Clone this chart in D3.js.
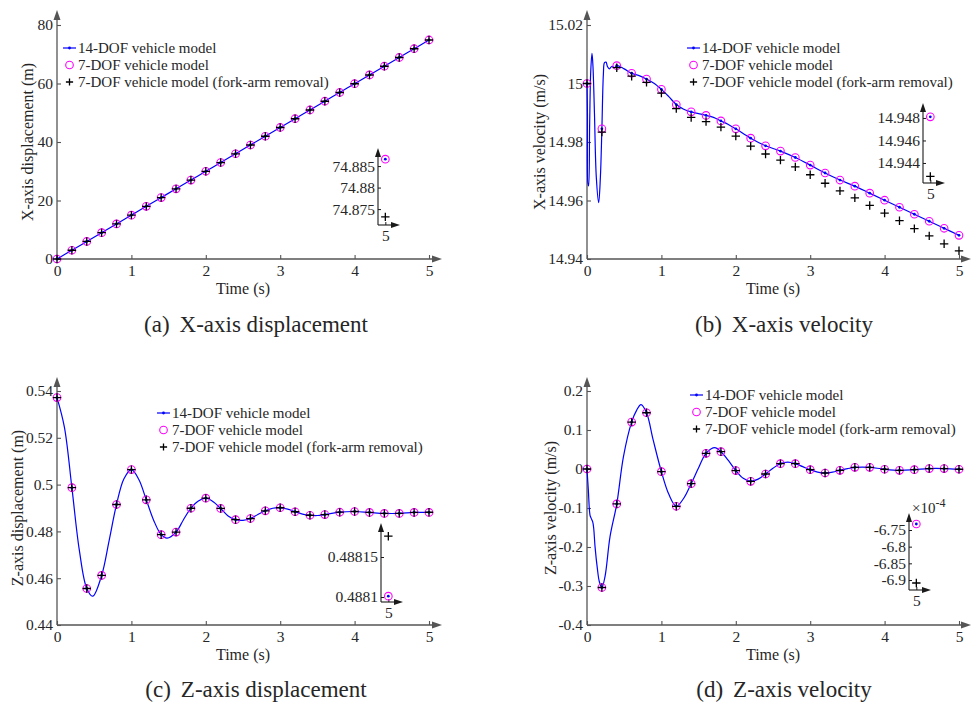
<!DOCTYPE html>
<html>
<head>
<meta charset="utf-8">
<title>Vehicle model comparison</title>
<style>
body { margin:0; background:#fff; }
svg text { font-family: "Liberation Serif", "Times New Roman", serif; fill:#262626; }
</style>
</head>
<body>
<svg id="chart" width="973" height="703"></svg>
<script src="https://d3js.org/d3.v7.min.js"></script>
<script>
// sample times of the markers (s)
var timeSteps = [0,0.2,0.4,0.6,0.8,1.0,1.2,1.4,1.6,1.8,2.0,2.2,2.4,2.6,2.8,3.0,3.2,3.4,3.6,3.8,4.0,4.2,4.4,4.6,4.8,5.0];
var xTicks = [0,1,2,3,4,5];
var xTickLabels = ["0","1","2","3","4","5"];
var legendNames = ["14-DOF vehicle model", "7-DOF vehicle model", "7-DOF vehicle model (fork-arm removal)"];

// (a) X-axis displacement
var dispX14 = [0,2.998,5.998,8.999,12.000,14.999,17.998,20.996,23.994,26.991,29.988,32.985,35.981,38.976,41.971,44.966,47.960,50.953,53.946,56.939,59.931,62.923,65.914,68.905,71.895,74.8866];
var dispX7 = [0,2.998,5.998,8.999,12.000,14.999,17.998,20.996,23.994,26.991,29.988,32.985,35.981,38.976,41.971,44.966,47.960,50.953,53.946,56.939,59.931,62.923,65.914,68.905,71.895,74.8866];
var dispXFork = [0,2.998,5.997,8.998,11.998,14.997,17.995,20.993,23.990,26.987,29.983,32.979,35.974,38.969,41.963,44.957,47.950,50.942,53.934,56.926,59.917,62.908,65.898,68.887,71.876,74.8732];
var dispXTicks = [0,20,40,60,80];
var dispXTickLabels = ["0","20","40","60","80"];
var dispXInsetTicks = [74.875,74.88,74.885];
var dispXInsetLabels = ["74.875","74.88","74.885"];

// (b) X-axis velocity
var velX14Time = [0,0.006,0.012,0.022,0.035,0.05,0.067,0.08,0.1,0.125,0.157,0.18,0.2,0.22,0.235,0.256,0.275,0.3,0.336,0.37,0.4,0.5,0.6,0.7,0.8,0.9,1.0,1.1,1.2,1.3,1.4,1.5,1.6,1.7,1.8,1.9,2.0,2.2,2.4,2.6,2.8,3.0,3.2,3.4,3.6,3.8,4.0,4.2,4.4,4.6,4.8,5.0];
var velX14 = [15.000,14.990,14.966,14.965,14.985,15.004,15.0103,15.006,14.990,14.968,14.9593,14.968,14.9845,15.003,15.0071,15.0073,15.0058,15.0050,15.0059,15.0054,15.0061,15.0050,15.0035,15.0027,15.0015,15.0001,14.9980,14.9955,14.9928,14.9912,14.9903,14.9897,14.9891,14.9884,14.9872,14.9860,14.9845,14.9813,14.9787,14.9769,14.9747,14.9721,14.9694,14.9670,14.9649,14.9625,14.9601,14.9577,14.9553,14.9529,14.9505,14.9481];
var velX7 = [15.000,14.9845,15.0061,15.0035,15.0015,14.9980,14.9928,14.9903,14.9891,14.9872,14.9845,14.9813,14.9787,14.9769,14.9747,14.9721,14.9694,14.9670,14.9649,14.9625,14.9601,14.9577,14.9553,14.9529,14.9505,14.9481];
var velXFork = [15.000,14.9834,15.0054,15.0025,15.0004,14.9967,14.9914,14.9884,14.9870,14.9851,14.9820,14.9786,14.9759,14.9738,14.9715,14.9688,14.9659,14.9633,14.9609,14.9583,14.9557,14.9531,14.9504,14.9479,14.9452,14.9428];
var velXTicks = [14.94,14.96,14.98,15,15.02];
var velXTickLabels = ["14.94","14.96","14.98","15","15.02"];
var velXInsetTicks = [14.944,14.946,14.948];
var velXInsetLabels = ["14.944","14.946","14.948"];

// (c) Z-axis displacement
var dispZ14Time = [0,0.1,0.2,0.3,0.4,0.48,0.6,0.7,0.8,0.9,1.0,1.1,1.2,1.3,1.4,1.48,1.6,1.7,1.8,1.9,2.0,2.1,2.2,2.3,2.4,2.5,2.6,2.7,2.8,2.9,3.0,3.1,3.2,3.3,3.4,3.5,3.6,3.8,4.0,4.2,4.4,4.6,4.8,5.0];
var dispZ14 = [0.5372,0.5245,0.4987,0.4720,0.4556,0.4523,0.4612,0.4760,0.4915,0.5025,0.5064,0.5022,0.4935,0.4847,0.4786,0.4771,0.4797,0.4850,0.4899,0.4930,0.4942,0.4927,0.4898,0.4866,0.4850,0.4847,0.4855,0.4872,0.4888,0.4899,0.4901,0.4895,0.4884,0.4874,0.4869,0.4868,0.4872,0.4882,0.4885,0.4881,0.4877,0.4877,0.4881,0.488101];
var dispZ7 = [0.5372,0.4987,0.4556,0.4612,0.4915,0.5064,0.4935,0.4786,0.4797,0.4899,0.4942,0.4898,0.4850,0.4855,0.4888,0.4901,0.4884,0.4869,0.4872,0.4882,0.4885,0.4881,0.4877,0.4877,0.4881,0.488101];
var dispZFork = [0.5372,0.4987,0.4556,0.4612,0.4915,0.5064,0.4935,0.4786,0.4797,0.4899,0.4942,0.4898,0.4850,0.4855,0.4888,0.4901,0.4884,0.4869,0.4872,0.4882,0.4885,0.4881,0.4877,0.4877,0.4881,0.488176];
var dispZTicks = [0.44,0.46,0.48,0.5,0.52,0.54];
var dispZTickLabels = ["0.44","0.46","0.48","0.5","0.52","0.54"];
var dispZInsetTicks = [0.4881,0.48815];
var dispZInsetLabels = ["0.4881","0.48815"];

// (d) Z-axis velocity
var velZ14Time = [0,0.018,0.04,0.055,0.076,0.09,0.108,0.139,0.166,0.2,0.242,0.31,0.4,0.49,0.6,0.668,0.726,0.8,0.89,1.0,1.1,1.2,1.3,1.4,1.5,1.6,1.72,1.8,1.9,2.0,2.1,2.2,2.3,2.4,2.5,2.6,2.7,2.8,2.9,3.0,3.1,3.2,3.3,3.4,3.5,3.6,3.7,3.8,4.0,4.2,4.4,4.6,4.8,5.0];
var velZ14 = [0,-0.054,-0.118,-0.126,-0.135,-0.152,-0.199,-0.255,-0.289,-0.3038,-0.276,-0.173,-0.0896,0.032,0.1203,0.151,0.165,0.1442,0.074,-0.0068,-0.065,-0.0956,-0.075,-0.0375,0.003,0.0401,0.0547,0.0444,0.022,-0.0040,-0.024,-0.0316,-0.026,-0.0128,0.002,0.0137,0.0175,0.0137,0.006,-0.0017,-0.008,-0.0102,-0.008,-0.0034,0.001,0.0043,0.005,0.0043,-0.0006,-0.0034,-0.0017,0.0011,0.0011,-0.0006732];
var velZ7 = [0,-0.3038,-0.0896,0.1203,0.1442,-0.0068,-0.0956,-0.0375,0.0401,0.0444,-0.0040,-0.0316,-0.0128,0.0137,0.0137,-0.0017,-0.0102,-0.0034,0.0043,0.0043,-0.0006,-0.0034,-0.0017,0.0011,0.0011,-0.0006732];
var velZFork = [0,-0.3038,-0.0896,0.1203,0.1442,-0.0068,-0.0956,-0.0375,0.0401,0.0444,-0.0040,-0.0316,-0.0128,0.0137,0.0137,-0.0017,-0.0102,-0.0034,0.0043,0.0043,-0.0006,-0.0034,-0.0017,0.0011,0.0011,-0.0006909];
var velZTicks = [-0.4,-0.3,-0.2,-0.1,0,0.1,0.2];
var velZTickLabels = ["-0.4","-0.3","-0.2","-0.1","0","0.1","0.2"];
var velZInsetTicks = [-6.9,-6.85,-6.8,-6.75];
var velZInsetLabels = ["-6.9","-6.85","-6.8","-6.75"];

var svg = d3.select("#chart");
var axisColor = "#555";

function arrow(g, x, y, dir, len, half, color) {
  var p;
  if (dir == "up") p = [[x, y], [x - half, y + len], [x + half, y + len]];
  else p = [[x, y], [x - len, y - half], [x - len, y + half]];
  g.append("path").attr("d", "M" + p.join("L") + "Z").attr("fill", color);
}

function drawPlus(g, cx, cy, s, w) {
  g.append("path")
    .attr("d", "M" + (cx - s) + "," + cy + "H" + (cx + s) + "M" + cx + "," + (cy - s) + "V" + (cy + s))
    .attr("stroke", "#000").attr("stroke-width", w).attr("fill", "none");
}

function drawPanel(p) {
  var g = svg.append("g");
  var x = d3.scaleLinear().domain([0, 5]).range([p.left, p.right]);
  var y = d3.scaleLinear().domain(p.yDomain).range([p.bottom, p.top]);

  // axes with arrows
  g.append("line").attr("x1", p.left).attr("x2", p.left).attr("y1", p.bottom).attr("y2", p.yTip + 8)
    .attr("stroke", axisColor).attr("stroke-width", 1.3);
  arrow(g, p.left, p.yTip, "up", 10, 3.5, axisColor);
  g.append("line").attr("x1", p.left).attr("x2", p.xTip - 8).attr("y1", p.bottom).attr("y2", p.bottom)
    .attr("stroke", axisColor).attr("stroke-width", 1.3);
  arrow(g, p.xTip, p.bottom, "right", 10, 3.5, axisColor);

  var ya = g.append("g").attr("transform", "translate(" + p.left + ",0)")
    .call(d3.axisLeft(y).tickValues(p.yTicks).tickFormat(function(d, i) { return p.yTickLabels[i]; })
      .tickSize(-4).tickPadding(4));
  var xa = g.append("g").attr("transform", "translate(0," + p.bottom + ")")
    .call(d3.axisBottom(x).tickValues(xTicks).tickFormat(function(d, i) { return xTickLabels[i]; })
      .tickSize(-4).tickPadding(6));
  [ya, xa].forEach(function(a) {
    a.select(".domain").remove();
    a.selectAll("line").attr("stroke", axisColor).attr("stroke-width", 1.1);
    a.selectAll("text").attr("font-size", 15.5).attr("font-family", null).attr("fill", "#262626");
  });

  // 14-DOF line
  var pts = p.lineT.map(function(t, i) { return [t, p.lineV[i]]; });
  g.append("path").datum(pts)
    .attr("d", d3.line().x(function(d) { return x(d[0]); }).y(function(d) { return y(d[1]); }).curve(d3.curveCatmullRom.alpha(0.5)))
    .attr("fill", "none").attr("stroke", "#0000ff").attr("stroke-width", 1.2);
  var dots = pts.filter(function(d) { return Math.abs(d[0] * 5 - Math.round(d[0] * 5)) < 1e-9; });
  g.selectAll(".dot").data(dots).enter().append("circle")
    .attr("cx", function(d) { return x(d[0]); }).attr("cy", function(d) { return y(d[1]); })
    .attr("r", 1.4).attr("fill", "#0000ff");

  // 7-DOF circles
  g.selectAll(".c7").data(timeSteps).enter().append("circle")
    .attr("cx", function(d) { return x(d); }).attr("cy", function(d, i) { return y(p.c7[i]); })
    .attr("r", 3.8).attr("fill", "none").attr("stroke", "#ff00ff").attr("stroke-width", 1.1);
  // fork-arm removal pluses
  timeSteps.forEach(function(t, i) { drawPlus(g, x(t), y(p.fork[i]), 4.2, 1.3); });

  // legend
  var lx = p.legend[0], ly = p.legend[1];
  g.append("line").attr("x1", lx).attr("x2", lx + 13).attr("y1", ly).attr("y2", ly)
    .attr("stroke", "#0000ff").attr("stroke-width", 1.2);
  g.append("circle").attr("cx", lx + 6.5).attr("cy", ly).attr("r", 1.4).attr("fill", "#0000ff");
  g.append("circle").attr("cx", lx + 6.5).attr("cy", ly + 17).attr("r", 3.8)
    .attr("fill", "none").attr("stroke", "#ff00ff").attr("stroke-width", 1.1);
  drawPlus(g, lx + 6.5, ly + 34, 3.6, 1.3);
  legendNames.forEach(function(name, i) {
    g.append("text").attr("x", lx + 15).attr("y", ly + i * 17 + 5).attr("font-size", 15).text(name);
  });

  // axis labels and caption
  g.append("text").attr("x", (p.left + p.right) / 2).attr("y", p.bottom + 35)
    .attr("text-anchor", "middle").attr("font-size", 16).text("Time (s)");
  g.append("text").attr("transform", "translate(" + p.ylab[0] + "," + p.ylab[1] + ") rotate(-90)")
    .attr("text-anchor", "middle").attr("font-size", 16).text(p.ylabel);
  var cap = g.append("text").attr("x", p.caption[0]).attr("y", p.caption[1])
    .attr("text-anchor", "middle").attr("font-size", 23).attr("fill", "#111");
  cap.append("tspan").text(p.capTag);
  cap.append("tspan").attr("dx", 10).text(p.capText);

  // zoomed inset at t = 5
  var ins = p.inset;
  var ix = d3.scaleLinear().domain([4.99, 5.02]).range([ins.ax, ins.ax + 22]);
  var iy = d3.scaleLinear().domain(ins.domain).range([ins.bottom, ins.top]);
  var n = timeSteps.length - 1;
  var ic = "#1a1a1a";
  g.append("line").attr("x1", ins.ax).attr("x2", ins.ax).attr("y1", ins.bottom).attr("y2", ins.top + 7)
    .attr("stroke", ic).attr("stroke-width", 1.1);
  arrow(g, ins.ax, ins.top, "up", 9, 3, ic);
  g.append("line").attr("x1", ins.ax).attr("x2", ins.ax + 15).attr("y1", ins.bottom).attr("y2", ins.bottom)
    .attr("stroke", ic).attr("stroke-width", 1.1);
  arrow(g, ins.ax + 22, ins.bottom, "right", 9, 3, ic);
  var iya = g.append("g").attr("transform", "translate(" + ins.ax + ",0)")
    .call(d3.axisLeft(iy).tickValues(ins.ticks).tickFormat(function(d, i) { return ins.labels[i]; })
      .tickSize(-3).tickPadding(3));
  var ixa = g.append("g").attr("transform", "translate(0," + ins.bottom + ")")
    .call(d3.axisBottom(ix).tickValues([5]).tickFormat(function() { return "5"; }).tickSize(-3).tickPadding(5));
  [iya, ixa].forEach(function(a) {
    a.select(".domain").remove();
    a.selectAll("line").attr("stroke", ic);
    a.selectAll("text").attr("font-size", 15.5).attr("font-family", null).attr("fill", "#262626");
  });
  var k = ins.scale;
  g.append("circle").attr("cx", ix(5)).attr("cy", iy(p.c7[n] * k)).attr("r", 3.8)
    .attr("fill", "none").attr("stroke", "#ff00ff").attr("stroke-width", 1.1);
  g.append("circle").attr("cx", ix(5)).attr("cy", iy(p.lineV[p.lineV.length - 1] * k)).attr("r", 1.4).attr("fill", "#0000ff");
  drawPlus(g, ix(5), iy(p.fork[n] * k), 4.2, 1.3);
  if (ins.exponent) {
    var ex = g.append("text").attr("x", ins.ax + 3).attr("y", ins.top).attr("font-size", 15);
    ex.append("tspan").text("\u00d710");
    ex.append("tspan").attr("dy", -6).attr("font-size", 12).text("-4");
  }
}

drawPanel({
  left: 57, right: 429, bottom: 259, top: 25, yTip: 10, xTip: 442,
  yDomain: [0, 80], yTicks: dispXTicks, yTickLabels: dispXTickLabels,
  lineT: timeSteps, lineV: dispX14, c7: dispX7, fork: dispXFork,
  legend: [63, 48], ylab: [33, 142], ylabel: "X-axis displacement (m)",
  caption: [256, 332], capTag: "(a)", capText: "X-axis displacement",
  inset: { ax: 378, bottom: 225, top: 148, domain: [74.8713, 74.8892], ticks: dispXInsetTicks, labels: dispXInsetLabels, scale: 1 }
});
drawPanel({
  left: 587, right: 959, bottom: 259, top: 25, yTip: 10, xTip: 971,
  yDomain: [14.94, 15.02], yTicks: velXTicks, yTickLabels: velXTickLabels,
  lineT: velX14Time, lineV: velX14, c7: velX7, fork: velXFork,
  legend: [687, 48], ylab: [545, 142], ylabel: "X-axis velocity (m/s)",
  caption: [784, 332], capTag: "(b)", capText: "X-axis velocity",
  inset: { ax: 923, bottom: 183, top: 103, domain: [14.94222, 14.94933], ticks: velXInsetTicks, labels: velXInsetLabels, scale: 1 }
});
drawPanel({
  left: 57, right: 429, bottom: 625, top: 391, yTip: 377, xTip: 442,
  yDomain: [0.44, 0.54], yTicks: dispZTicks, yTickLabels: dispZTickLabels,
  lineT: dispZ14Time, lineV: dispZ14, c7: dispZ7, fork: dispZFork,
  legend: [157, 413], ylab: [23, 508], ylabel: "Z-axis displacement (m)",
  caption: [256, 697], capTag: "(c)", capText: "Z-axis displacement",
  inset: { ax: 381, bottom: 602, top: 523, domain: [0.48809375, 0.4881925], ticks: dispZInsetTicks, labels: dispZInsetLabels, scale: 1 }
});
drawPanel({
  left: 587, right: 959, bottom: 625, top: 391, yTip: 377, xTip: 971,
  yDomain: [-0.4, 0.2], yTicks: velZTicks, yTickLabels: velZTickLabels,
  lineT: velZ14Time, lineV: velZ14, c7: velZ7, fork: velZFork,
  legend: [690, 395], ylab: [556, 508], ylabel: "Z-axis velocity (m/s)",
  caption: [784, 697], capTag: "(d)", capText: "Z-axis velocity",
  inset: { ax: 909, bottom: 590, top: 513, domain: [-6.93, -6.699], ticks: velZInsetTicks, labels: velZInsetLabels, scale: 1e4, exponent: true }
});
</script>
</body>
</html>
